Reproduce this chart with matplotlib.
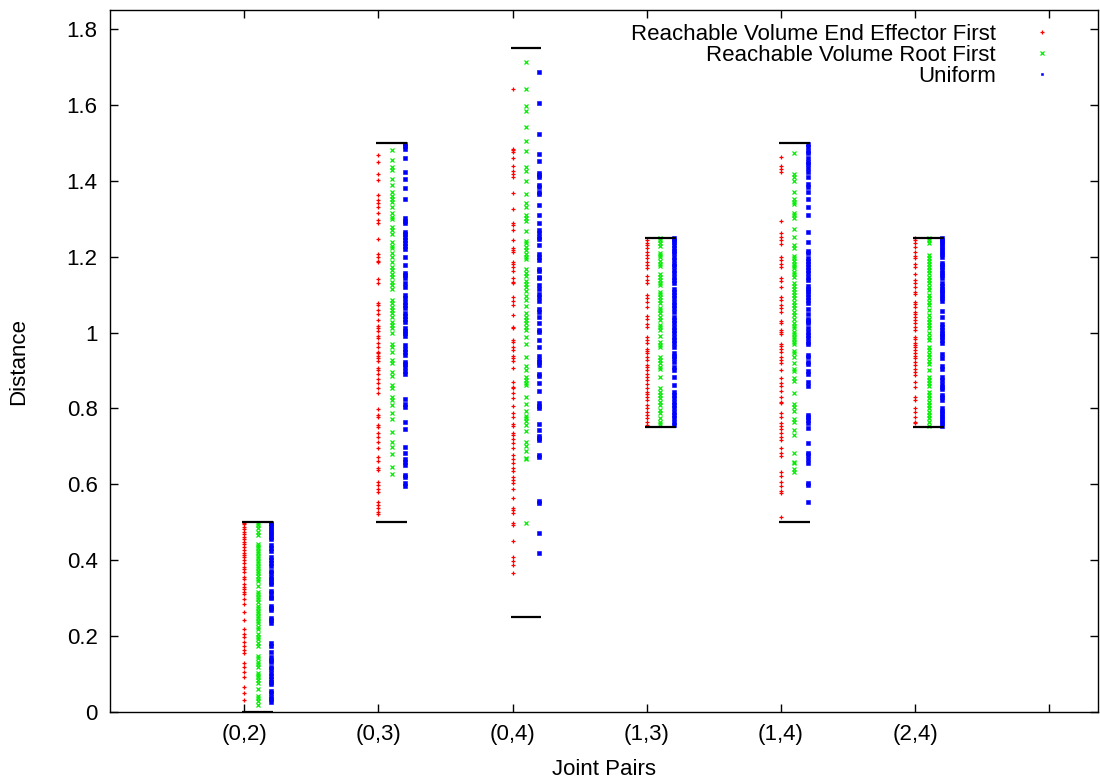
import matplotlib
matplotlib.use("Agg")
import matplotlib.pyplot as plt
from matplotlib.ticker import FuncFormatter

plt.rcParams["font.family"] = ["Liberation Sans", "DejaVu Sans"]

# ---- categories and allowed distance ranges
pairs = ["(0,2)", "(0,3)", "(0,4)", "(1,3)", "(1,4)", "(2,4)"]
range_lo = [0.0, 0.5, 0.25, 0.75, 0.5, 0.75]
range_hi = [0.5, 1.5, 1.75, 1.25, 1.5, 1.25]

ee_02 = [0.499, 0.495, 0.488, 0.481, 0.475, 0.469, 0.462, 0.455, 0.449, 0.443, 0.436,
         0.427, 0.420, 0.414, 0.408, 0.401, 0.393, 0.383, 0.376, 0.370, 0.357, 0.350,
         0.337, 0.330, 0.323, 0.317, 0.311, 0.297, 0.285, 0.263, 0.242, 0.219, 0.206,
         0.198, 0.185, 0.175, 0.163, 0.155, 0.128, 0.119, 0.106, 0.093, 0.067, 0.049, 0.032]
root_02 = [0.499, 0.493, 0.484, 0.475, 0.466, 0.444, 0.437, 0.431, 0.425, 0.418, 0.411,
           0.405, 0.399, 0.392, 0.385, 0.379, 0.372, 0.365, 0.358, 0.351, 0.345, 0.332,
           0.317, 0.311, 0.304, 0.297, 0.291, 0.279, 0.273, 0.267, 0.260, 0.253, 0.247,
           0.241, 0.234, 0.225, 0.218, 0.206, 0.198, 0.192, 0.181, 0.174, 0.148, 0.141,
           0.133, 0.126, 0.119, 0.104, 0.097, 0.091, 0.084, 0.077, 0.060, 0.042, 0.036,
           0.030, 0.018]
uni_02 = [0.499, 0.495, 0.488, 0.481, 0.475, 0.469, 0.462, 0.455, 0.440, 0.431, 0.425,
          0.408, 0.401, 0.393, 0.385, 0.372, 0.365, 0.357, 0.350, 0.343, 0.337, 0.320,
          0.313, 0.304, 0.300, 0.279, 0.273, 0.269, 0.249, 0.242, 0.235, 0.181, 0.174,
          0.159, 0.144, 0.137, 0.133, 0.119, 0.112, 0.104, 0.095, 0.086, 0.080, 0.074,
          0.056, 0.049, 0.040, 0.033, 0.027]

ee_03 = [1.468, 1.450, 1.419, 1.402, 1.362, 1.349, 1.342, 1.330, 1.314, 1.296, 1.288,
         1.246, 1.206, 1.200, 1.189, 1.185, 1.141, 1.130, 1.079, 1.072, 1.059, 1.048,
         1.033, 1.017, 1.011, 1.005, 0.991, 0.985, 0.973, 0.963, 0.949, 0.945, 0.939,
         0.932, 0.926, 0.906, 0.901, 0.891, 0.877, 0.866, 0.855, 0.840, 0.798, 0.783,
         0.777, 0.756, 0.752, 0.734, 0.726, 0.712, 0.695, 0.671, 0.662, 0.642, 0.638,
         0.607, 0.598, 0.589, 0.579, 0.554, 0.545, 0.537, 0.528, 0.521]
root_03 = [1.481, 1.456, 1.437, 1.428, 1.404, 1.389, 1.371, 1.360, 1.351, 1.345, 1.330,
           1.314, 1.305, 1.299, 1.279, 1.270, 1.261, 1.239, 1.228, 1.222, 1.210, 1.200,
           1.187, 1.173, 1.165, 1.154, 1.147, 1.134, 1.125, 1.116, 1.087, 1.077, 1.068,
           1.059, 1.052, 1.042, 1.029, 1.020, 1.011, 0.998, 0.970, 0.961, 0.949, 0.929,
           0.919, 0.897, 0.885, 0.862, 0.853, 0.829, 0.822, 0.809, 0.789, 0.771, 0.739,
           0.712, 0.699, 0.680, 0.646, 0.627]
uni_03 = [1.498, 1.491, 1.483, 1.459, 1.424, 1.406, 1.380, 1.352, 1.301, 1.295, 1.288,
          1.266, 1.261, 1.251, 1.244, 1.237, 1.228, 1.219, 1.198, 1.178, 1.158, 1.152,
          1.143, 1.130, 1.121, 1.099, 1.090, 1.081, 1.072, 1.064, 1.052, 1.043, 1.035,
          1.029, 1.011, 1.005, 0.998, 0.991, 0.967, 0.958, 0.949, 0.941, 0.923, 0.917,
          0.908, 0.899, 0.891, 0.824, 0.813, 0.805, 0.765, 0.745, 0.699, 0.682, 0.668,
          0.660, 0.651, 0.625, 0.620, 0.604, 0.596]

ee_04 = [1.641, 1.485, 1.481, 1.476, 1.459, 1.439, 1.426, 1.418, 1.409, 1.369, 1.325,
         1.288, 1.283, 1.270, 1.244, 1.222, 1.217, 1.213, 1.185, 1.181, 1.173, 1.163,
         1.143, 1.134, 1.130, 1.094, 1.083, 1.072, 1.046, 1.015, 1.011, 0.980, 0.976,
         0.963, 0.954, 0.938, 0.932, 0.926, 0.907, 0.869, 0.857, 0.853, 0.840, 0.827,
         0.807, 0.789, 0.777, 0.759, 0.754, 0.734, 0.730, 0.719, 0.710, 0.697, 0.677,
         0.666, 0.655, 0.642, 0.636, 0.620, 0.611, 0.604, 0.589, 0.563, 0.537, 0.532,
         0.525, 0.497, 0.493, 0.451, 0.409, 0.399, 0.387, 0.365]
root_04 = [1.712, 1.641, 1.597, 1.584, 1.542, 1.505, 1.478, 1.437, 1.426, 1.400, 1.364,
           1.342, 1.332, 1.310, 1.301, 1.295, 1.268, 1.242, 1.235, 1.226, 1.217, 1.207,
           1.200, 1.193, 1.167, 1.158, 1.149, 1.137, 1.128, 1.119, 1.110, 1.096, 1.086,
           1.070, 1.051, 1.042, 1.033, 1.024, 1.015, 1.007, 0.989, 0.970, 0.936, 0.913,
           0.901, 0.884, 0.875, 0.866, 0.862, 0.829, 0.813, 0.794, 0.780, 0.774, 0.768,
           0.756, 0.740, 0.711, 0.701, 0.689, 0.670, 0.666, 0.497]
uni_04 = [1.687, 1.604, 1.523, 1.470, 1.453, 1.421, 1.415, 1.409, 1.389, 1.384, 1.371,
          1.365, 1.336, 1.311, 1.288, 1.270, 1.263, 1.252, 1.246, 1.231, 1.207, 1.200,
          1.191, 1.167, 1.163, 1.147, 1.143, 1.125, 1.116, 1.101, 1.094, 1.084, 1.061,
          1.055, 1.040, 1.026, 1.008, 1.002, 0.980, 0.963, 0.938, 0.928, 0.923, 0.914,
          0.892, 0.885, 0.868, 0.847, 0.815, 0.806, 0.800, 0.759, 0.743, 0.727, 0.721,
          0.717, 0.677, 0.671, 0.557, 0.550, 0.473, 0.420]

ee_13 = [1.244, 1.237, 1.231, 1.222, 1.213, 1.204, 1.196, 1.187, 1.178, 1.169, 1.149,
         1.138, 1.130, 1.099, 1.090, 1.081, 1.068, 1.043, 1.035, 1.022, 1.014, 0.987,
         0.980, 0.972, 0.958, 0.952, 0.945, 0.936, 0.929, 0.914, 0.908, 0.901, 0.892,
         0.884, 0.875, 0.864, 0.853, 0.844, 0.838, 0.831, 0.822, 0.809, 0.800, 0.791,
         0.783, 0.774, 0.765, 0.756]
root_13 = [1.249, 1.244, 1.235, 1.228, 1.210, 1.204, 1.198, 1.189, 1.182, 1.175, 1.154,
           1.147, 1.138, 1.131, 1.125, 1.108, 1.101, 1.094, 1.086, 1.077, 1.066, 1.059,
           1.051, 1.040, 1.033, 1.020, 1.014, 1.007, 0.991, 0.976, 0.967, 0.961, 0.936,
           0.928, 0.919, 0.910, 0.903, 0.882, 0.853, 0.844, 0.835, 0.827, 0.818, 0.809,
           0.796, 0.789, 0.774, 0.765, 0.759]
uni_13 = [1.249, 1.245, 1.239, 1.231, 1.222, 1.216, 1.209, 1.200, 1.191, 1.182, 1.175,
          1.165, 1.156, 1.147, 1.138, 1.130, 1.116, 1.108, 1.099, 1.090, 1.081, 1.072,
          1.064, 1.055, 1.040, 1.033, 1.024, 1.014, 1.007, 0.998, 0.989, 0.980, 0.972,
          0.963, 0.945, 0.938, 0.932, 0.923, 0.910, 0.901, 0.884, 0.862, 0.844, 0.835,
          0.827, 0.818, 0.809, 0.800, 0.791, 0.783, 0.774, 0.765, 0.756]

ee_14 = [1.462, 1.439, 1.430, 1.424, 1.295, 1.263, 1.251, 1.244, 1.233, 1.200, 1.191,
         1.182, 1.173, 1.143, 1.137, 1.121, 1.094, 1.086, 1.072, 1.064, 1.055, 1.031,
         1.024, 1.008, 1.002, 0.996, 0.971, 0.964, 0.958, 0.949, 0.936, 0.929, 0.921,
         0.901, 0.879, 0.868, 0.859, 0.847, 0.831, 0.818, 0.815, 0.789, 0.778, 0.762,
         0.754, 0.745, 0.734, 0.726, 0.717, 0.695, 0.683, 0.675, 0.633, 0.622, 0.607,
         0.596, 0.583, 0.578, 0.515]
root_14 = [1.472, 1.418, 1.411, 1.400, 1.371, 1.351, 1.345, 1.339, 1.316, 1.310, 1.301,
           1.272, 1.251, 1.231, 1.222, 1.202, 1.196, 1.189, 1.182, 1.175, 1.169, 1.160,
           1.154, 1.147, 1.130, 1.123, 1.116, 1.108, 1.099, 1.090, 1.081, 1.072, 1.064,
           1.055, 1.046, 1.037, 1.026, 1.017, 1.011, 1.002, 0.996, 0.989, 0.982, 0.976,
           0.970, 0.952, 0.945, 0.935, 0.921, 0.903, 0.899, 0.879, 0.873, 0.840, 0.812,
           0.803, 0.794, 0.771, 0.765, 0.743, 0.730, 0.682, 0.660, 0.655, 0.640, 0.633]
uni_14 = [1.497, 1.490, 1.479, 1.474, 1.459, 1.450, 1.444, 1.433, 1.424, 1.409, 1.391,
          1.383, 1.371, 1.351, 1.330, 1.310, 1.266, 1.239, 1.216, 1.209, 1.196, 1.189,
          1.182, 1.172, 1.165, 1.156, 1.147, 1.138, 1.123, 1.116, 1.110, 1.101, 1.094,
          1.087, 1.077, 1.061, 1.049, 1.037, 1.031, 1.024, 1.011, 1.002, 0.993, 0.985,
          0.976, 0.970, 0.941, 0.935, 0.923, 0.917, 0.899, 0.891, 0.870, 0.859, 0.783,
          0.777, 0.769, 0.762, 0.748, 0.710, 0.683, 0.677, 0.666, 0.657, 0.604, 0.598,
          0.554]

ee_24 = [1.249, 1.244, 1.235, 1.226, 1.213, 1.202, 1.196, 1.182, 1.173, 1.154, 1.138,
         1.130, 1.121, 1.108, 1.101, 1.081, 1.075, 1.068, 1.055, 1.049, 1.042, 1.033,
         1.024, 1.015, 1.007, 0.989, 0.982, 0.973, 0.967, 0.961, 0.954, 0.945, 0.938,
         0.932, 0.923, 0.914, 0.905, 0.897, 0.888, 0.870, 0.856, 0.831, 0.822, 0.800,
         0.791, 0.778, 0.765, 0.761]
root_24 = [1.249, 1.244, 1.235, 1.204, 1.196, 1.189, 1.182, 1.173, 1.165, 1.156, 1.147,
           1.138, 1.130, 1.121, 1.112, 1.099, 1.090, 1.081, 1.072, 1.059, 1.046, 1.037,
           1.027, 1.020, 1.011, 0.998, 0.989, 0.980, 0.961, 0.954, 0.943, 0.936, 0.925,
           0.917, 0.901, 0.884, 0.875, 0.866, 0.860, 0.844, 0.835, 0.827, 0.818, 0.809,
           0.800, 0.791, 0.783, 0.774, 0.765, 0.754]
uni_24 = [1.249, 1.245, 1.239, 1.233, 1.226, 1.221, 1.213, 1.207, 1.200, 1.184, 1.178,
          1.172, 1.165, 1.158, 1.151, 1.145, 1.130, 1.123, 1.116, 1.110, 1.103, 1.096,
          1.090, 1.084, 1.057, 1.040, 1.022, 1.015, 1.007, 0.999, 0.993, 0.987, 0.980,
          0.972, 0.943, 0.932, 0.911, 0.903, 0.882, 0.875, 0.864, 0.857, 0.850, 0.835,
          0.829, 0.822, 0.800, 0.794, 0.787, 0.780, 0.774, 0.768, 0.761, 0.754]

ee_first = [ee_02, ee_03, ee_04, ee_13, ee_14, ee_24]
root_first = [root_02, root_03, root_04, root_13, root_14, root_24]
uniform = [uni_02, uni_03, uni_04, uni_13, uni_14, uni_24]

series = [
    ("Reachable Volume End Effector First", ee_first, 0.0, "#ff0000", "+"),
    ("Reachable Volume Root First", root_first, 0.1, "#00ee00", "x"),
    ("Uniform", uniform, 0.2, "#0000ff", "s"),
]

FS = 16

fig = plt.figure(figsize=(11, 7.8), dpi=100)
ax = fig.add_axes([0.1, 0.0872, 0.898, 0.8999])

for label, groups, offset, color, marker in series:
    for i, vals in enumerate(groups):
        xs = [i + 1 + offset] * len(vals)
        ax.plot(xs, vals, linestyle="none", marker=marker, color=color,
                markersize=2.6 if marker != "s" else 2.2,
                markeredgewidth=0.9 if marker != "s" else 0.4,
                label=label if i == 0 else None)

# allowed range bars
for i in range(len(pairs)):
    for v in (range_lo[i], range_hi[i]):
        ax.plot([i + 1 - 0.015, i + 1 + 0.215], [v, v], color="black", lw=1.6,
                solid_capstyle="butt")

ax.set_xlim(0, 7.36)
ax.set_ylim(0, 1.85)
ax.set_xticks(range(1, 8))
ax.set_xticklabels(pairs + [""])
ax.set_yticks([0, 0.2, 0.4, 0.6, 0.8, 1.0, 1.2, 1.4, 1.6, 1.8])
ax.yaxis.set_major_formatter(FuncFormatter(lambda v, p: "%g" % round(v, 2)))
ax.tick_params(direction="in", length=6, width=1, top=True, right=True,
               labelsize=FS, pad=9)
for s in ax.spines.values():
    s.set_linewidth(1.0)
ax.set_xlabel("Joint Pairs", fontsize=FS, labelpad=10)
ax.set_ylabel("Distance", fontsize=FS, labelpad=27)

leg = ax.legend(loc="upper right", bbox_to_anchor=(0.989, 1.003), frameon=False,
                markerfirst=False, fontsize=FS, handlelength=2.6, handletextpad=0.8,
                labelspacing=0.0, borderaxespad=0.3, borderpad=0.4,
                markerscale=0.9)

fig.savefig("out.png", dpi=100)
